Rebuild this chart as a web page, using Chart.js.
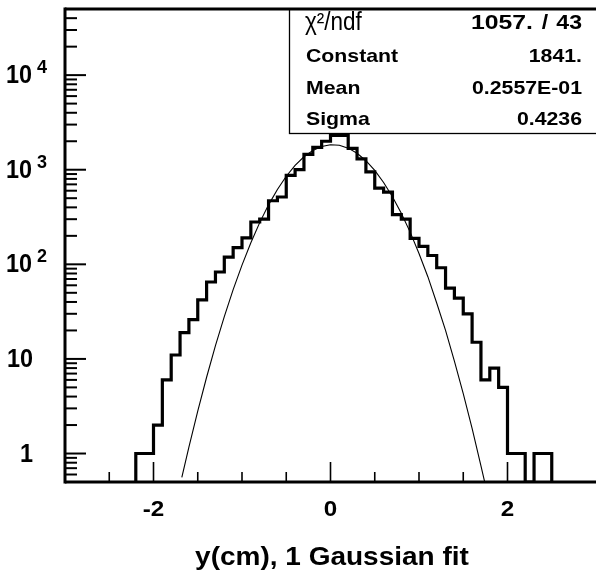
<!DOCTYPE html>
<html>
<head>
<meta charset="utf-8">
<script src="https://cdn.jsdelivr.net/npm/chart.js@4.4.1/dist/chart.umd.min.js"></script>
<style>
  html, body { margin: 0; padding: 0; background: #fff; }
  canvas { display: block; }
</style>
</head>
<body>
<canvas id="histo" width="596" height="574"></canvas>
<script>
// histogram bin edges (cm) and entries per bin
const binEdges = [-2.2, -2.1, -2.0, -1.9, -1.8, -1.7, -1.6, -1.5, -1.4, -1.3, -1.2, -1.1,
  -1.0, -0.9, -0.8, -0.7, -0.6, -0.5, -0.4, -0.3, -0.2, -0.1, 0.0, 0.1, 0.2, 0.3, 0.4,
  0.5, 0.6, 0.7, 0.8, 0.9, 1.0, 1.1, 1.2, 1.3, 1.4, 1.5, 1.6, 1.7, 1.8, 1.9, 2.0, 2.1,
  2.2, 2.3, 2.4, 2.5];
const counts = [1, 1, 2, 6, 11, 19, 26, 42, 65, 83,
  119, 150, 190, 280, 300, 470, 515, 870, 1000, 1450,
  1720, 2000, 2300, 2300, 1680, 1300, 950, 640, 580, 335,
  300, 188, 155, 124, 92, 56, 44, 30, 15, 6,
  8, 5, 1, 1, 0, 1, 1];

// gaussian fit curve
const fitX = [-1.68, -1.6, -1.5, -1.4, -1.3, -1.2, -1.1, -1.0, -0.9, -0.8, -0.7, -0.6,
  -0.5, -0.4, -0.3, -0.2, -0.1, 0.0, 0.1, 0.2, 0.3, 0.4, 0.5, 0.6, 0.7, 0.8, 0.9, 1.0,
  1.1, 1.2, 1.3, 1.4, 1.5, 1.6, 1.7, 1.74];
const fitY = [0.56, 1.17, 2.8, 6.4, 13.8, 28, 54, 98, 169, 276, 425, 619,
  853, 1112, 1370, 1598, 1762, 1838, 1813, 1691, 1493, 1245, 982, 733, 518, 346, 219, 130,
  74, 39, 20, 9.5, 4.3, 1.84, 0.74, 0.51];

// axes
const xMin = -3, xMax = 3, yMin = 0.5, yMax = 50000;
const xLabels = [-2, 0, 2];
const xMinorTicks = [-2.5, -1.5, -1, -0.5, 0.5, 1, 1.5, 2.5];
const yDecades = [1, 10, 100, 1000, 10000];
const xTitle = "y(cm), 1 Gaussian fit";

// fit stats box
const chiSq = "1057.", ndf = "43";
const statNames = ["Constant", "Mean", "Sigma"];
const statValues = ["1841.", "0.2557E-01", "0.4236"];

// step outline of the histogram
const histPoints = [{ x: binEdges[0], y: yMin }];
counts.forEach((c, i) => {
  const v = c > 0 ? c : yMin;
  histPoints.push({ x: binEdges[i], y: v });
  histPoints.push({ x: binEdges[i + 1], y: v });
});
histPoints.push({ x: binEdges[binEdges.length - 1], y: yMin });

const fitPoints = fitX.map((x, i) => ({ x, y: fitY[i] }));

const FONT = '"Liberation Sans", Arial, Helvetica, sans-serif';

function txt(ctx, s, x, y, size, opts = {}) {
  ctx.save();
  ctx.font = `${opts.weight || "bold"} ${size}px ${FONT}`;
  ctx.fillStyle = "#000";
  ctx.textAlign = opts.align || "left";
  ctx.textBaseline = opts.base || "alphabetic";
  ctx.translate(x, y);
  ctx.scale(opts.sx || 1, 1);
  ctx.fillText(s, 0, 0);
  ctx.restore();
}

function line(ctx, x1, y1, x2, y2, w) {
  ctx.lineWidth = w;
  ctx.beginPath();
  ctx.moveTo(x1, y1);
  ctx.lineTo(x2, y2);
  ctx.stroke();
}

const decorations = {
  id: "decorations",
  afterDraw(chart) {
    const { ctx, chartArea: a } = chart;
    const xs = chart.scales.x, ys = chart.scales.y;
    ctx.save();
    ctx.strokeStyle = "#000";

    // stats box
    const bx = 289.5, by = a.top, bb = 133.5;
    ctx.fillStyle = "#fff";
    ctx.fillRect(bx, by, a.right - bx + 2, bb - by);
    ctx.lineWidth = 1.3;
    ctx.strokeRect(bx, by, a.right - bx + 4, bb - by);

    txt(ctx, "\u03c7\u00b2/ndf", 305, 30, 25, { weight: "normal", sx: 0.9 });
    txt(ctx, chiSq, 533, 29, 21, { align: "right", sx: 1.18 });
    txt(ctx, "/", 545, 29, 21, { align: "center", sx: 1.1 });
    txt(ctx, ndf, 582, 29, 21, { align: "right", sx: 1.1 });
    statNames.forEach((n, i) => {
      const y = 62 + i * 31.5;
      txt(ctx, n, 306, y, 19, { sx: 1.12 });
      txt(ctx, statValues[i], 582, y, 19, { align: "right", sx: 1.12 });
    });

    // frame
    line(ctx, a.left, a.top - 1.5, a.left, a.bottom + 1.5, 3);
    line(ctx, a.left, a.bottom, a.right + 2, a.bottom, 3);
    line(ctx, a.left, a.top, a.right + 2, a.top, 3);

    // y ticks (log, inward)
    const decadeList = [0.1, 1, 10, 100, 1000, 10000];
    decadeList.forEach(d => {
      for (let m = 1; m <= 9; m++) {
        const v = d * m;
        if (v < yMin || v > yMax) continue;
        const py = ys.getPixelForValue(v);
        line(ctx, a.left, py, a.left + (m === 1 ? 21 : 12), py, 2);
      }
    });

    // x ticks (inward)
    xLabels.forEach(v => {
      const px = xs.getPixelForValue(v);
      line(ctx, px, a.bottom, px, a.bottom - 20, 1.6);
    });
    xMinorTicks.forEach(v => {
      const px = xs.getPixelForValue(v);
      line(ctx, px, a.bottom, px, a.bottom - 10, 1.6);
    });

    // y labels
    yDecades.forEach(d => {
      const py = ys.getPixelForValue(d);
      const e = Math.round(Math.log10(d));
      if (e <= 1) {
        txt(ctx, String(d), 33, py + 1, 26, { align: "right", base: "middle", sx: 0.9 });
      } else {
        txt(ctx, "10", 32, py + 1, 26, { align: "right", base: "middle", sx: 0.9 });
        txt(ctx, String(e), 37, py - 7, 18, { base: "middle" });
      }
    });

    // x labels
    xLabels.forEach(v => {
      const px = xs.getPixelForValue(v);
      txt(ctx, String(v), px, 510, 22, { align: "center", base: "middle", sx: 1.1 });
    });

    txt(ctx, xTitle, 332, 565, 25, { align: "center", sx: 1.12 });
    ctx.restore();
  }
};

new Chart(document.getElementById("histo"), {
  type: "line",
  data: {
    datasets: [
      {
        label: "entries",
        data: histPoints,
        borderColor: "#000",
        borderWidth: 3.2,
        pointRadius: 0,
        tension: 0,
        borderJoinStyle: "miter",
        fill: false
      },
      {
        label: "gaussian fit",
        data: fitPoints,
        borderColor: "#000",
        borderWidth: 1.1,
        pointRadius: 0,
        tension: 0,
        fill: false
      }
    ]
  },
  options: {
    responsive: false,
    animation: false,
    layout: { padding: { left: 65, top: 9, right: 0, bottom: 92 } },
    plugins: { legend: { display: false }, tooltip: { enabled: false } },
    scales: {
      x: { type: "linear", min: xMin, max: xMax, display: false },
      y: { type: "logarithmic", min: yMin, max: yMax, display: false }
    }
  },
  plugins: [decorations]
});
</script>
</body>
</html>
